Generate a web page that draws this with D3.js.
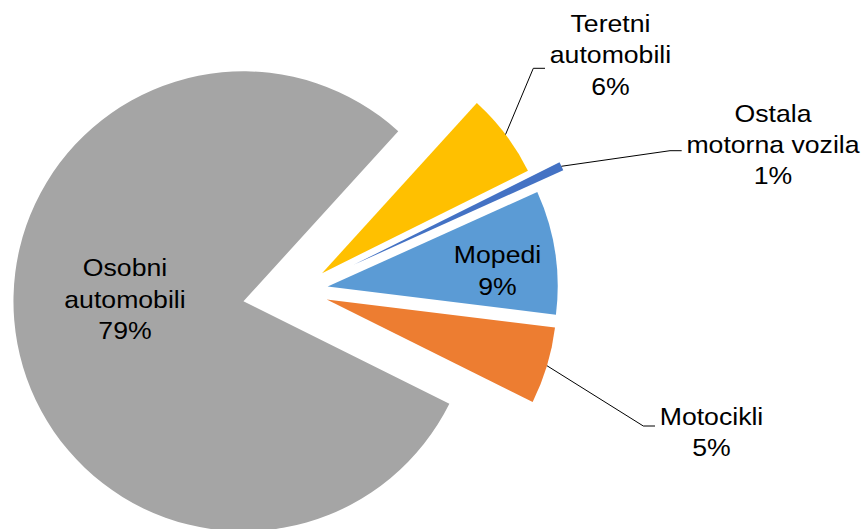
<!DOCTYPE html>
<html>
<head>
<meta charset="utf-8">
<script src="https://cdn.jsdelivr.net/npm/d3@7"></script>
<style>
  body { margin: 0; background: #fff; }
  svg { display: block; }
  text { font-family: "Liberation Sans", Arial, sans-serif; font-size: 24px; fill: #000; }
</style>
</head>
<body>
<script>
// categories and values (share in %), clockwise from the first slice
const categories = ['Teretni automobili', 'Ostala motorna vozila', 'Mopedi', 'Motocikli', 'Osobni automobili'];
const values = [5.9, 0.6, 8.7, 5.4, 79.4];
const colors = ['#FFC000', '#4472C4', '#5B9BD5', '#ED7D31', '#A5A5A5'];

// label text lines (category name split like the original)
const labelLines = [
    ['Teretni', 'automobili'],
    ['Ostala', 'motorna vozila'],
    ['Mopedi'],
    ['Motocikli'],
    ['Osobni', 'automobili']
];

// layout: explode distance per slice, label anchor (centre x, first baseline), leader elbow
const explode = [29.5, 61, 29.5, 29.5, 56];
const labelPos = [[610.5, 32.3], [773, 121.7], [497.5, 263.5], [711.5, 425], [125, 276.5]];
const elbows = [[533.3, 68.3, 545], [670, 150.7, 681.7], null, [643.3, 426, 655], null];

const width = 862, height = 529;
const cx = 298.5, cy = 291, radius = 230;
const lineH = 31.2;
const stretch = 1.11; // glyphs in the original are a bit wider than Arial
const deg = Math.PI / 180;
const start = 42.3 * deg;

const svg = d3.select('body').append('svg')
    .attr('width', width)
    .attr('height', height);

const pie = d3.pie()
    .sort(null)
    .value(d => d)
    .startAngle(start)
    .endAngle(start + 2 * Math.PI);

const arc = d3.arc()
    .innerRadius(0)
    .outerRadius(radius);

const slices = pie(values);
const fmt = d3.format('.0f');

// offset of each exploded slice
function shift(d, i) {
    const mid = (d.startAngle + d.endAngle) / 2;
    return [cx + explode[i] * Math.sin(mid), cy - explode[i] * Math.cos(mid)];
}

svg.append('g').selectAll('path')
    .data(slices)
    .enter().append('path')
    .attr('transform', (d, i) => `translate(${shift(d, i)})`)
    .attr('d', arc)
    .attr('fill', (d, i) => colors[i]);

// leader lines from the outer arc middle to the label
slices.forEach((d, i) => {
    if (!elbows[i]) return;
    const [ox, oy] = shift(d, i);
    const mid = (d.startAngle + d.endAngle) / 2;
    const sx = ox + radius * Math.sin(mid);
    const sy = oy - radius * Math.cos(mid);
    const e = elbows[i];
    svg.append('path')
        .attr('d', `M${sx},${sy}L${e[0]},${e[1]}L${e[2]},${e[1]}`)
        .attr('fill', 'none')
        .attr('stroke', '#000')
        .attr('stroke-width', 1);
});

// labels
slices.forEach((d, i) => {
    const lines = labelLines[i].concat([fmt(values[i]) + '%']);
    const t = svg.append('text')
        .attr('text-anchor', 'middle')
        .attr('transform', `translate(${labelPos[i][0]},0) scale(${stretch},1)`);
    lines.forEach((l, k) => {
        t.append('tspan')
            .attr('x', 0)
            .attr('y', labelPos[i][1] + k * lineH)
            .text(l);
    });
});
</script>
</body>
</html>
